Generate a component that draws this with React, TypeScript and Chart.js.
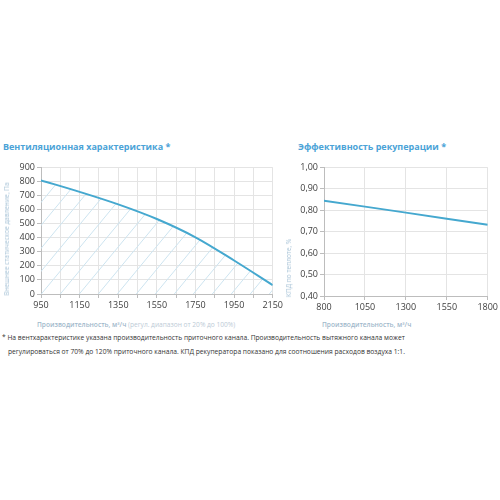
import React, { useEffect, useRef } from "react";
import { Chart, registerables } from "chart.js";
Chart.register(...registerables);

// Left chart: fan characteristic
const flowSupply = [950, 1150, 1350, 1550, 1750, 1950, 2150];
const pressurePa = [808, 726, 637, 533, 403, 238, 63];
// Right chart: recuperation efficiency
const flowRecup = [800, 1050, 1300, 1550, 1800];
const efficiency = [0.845, 0.817, 0.789, 0.76, 0.732];

const titleLeft = "Вентиляционная характеристика *";
const titleRight = "Эффективность рекуперации *";
const yTitleLeft = "Внешнее статическое давление, Па";
const yTitleRight = "КПД по теплоте, %";
const xTitleMain = "Производительность, м³/ч";
const xTitleNote = "(регул. диапазон от 20% до 100%)";
const footLine1 =
  "* На вентхарактеристике указана производительность приточного канала. Производительность вытяжного канала может";
const footLine2 =
  "регулироваться от 70% до 120% приточного канала. КПД рекуператора показано для соотношения расходов воздуха 1:1.";

const FONT = "'Open Sans', sans-serif";
const LINE = "#45a8cf";
const GRID = "#e4e4e4";
const AXIS = "#bdbdbd";
const TICK = "#404040";
const YTITLE = "#a6c2d6";

function makeHatch(): CanvasPattern | string {
  const w = 19;
  const h = 23;
  const c = document.createElement("canvas");
  c.width = w;
  c.height = h;
  const ctx = c.getContext("2d");
  if (!ctx) return "rgba(0,0,0,0)";
  ctx.strokeStyle = "#cde4f0";
  ctx.lineWidth = 1;
  ctx.beginPath();
  ctx.moveTo(-w, 2 * h);
  ctx.lineTo(2 * w, -h);
  ctx.moveTo(-2 * w, 2 * h);
  ctx.lineTo(w, -h);
  ctx.moveTo(0, 2 * h);
  ctx.lineTo(3 * w, -h);
  ctx.stroke();
  return ctx.createPattern(c, "repeat") || "rgba(0,0,0,0)";
}

function LeftChart() {
  const ref = useRef<HTMLCanvasElement>(null);
  useEffect(() => {
    if (!ref.current) return;
    const chart = new Chart(ref.current, {
      type: "line",
      data: {
        datasets: [
          {
            data: flowSupply.map((x, i) => ({ x, y: pressurePa[i] })),
            borderColor: LINE,
            borderWidth: 2,
            pointRadius: 0,
            cubicInterpolationMode: "monotone",
            fill: "origin",
            backgroundColor: makeHatch() as any,
          },
        ],
      },
      options: {
        responsive: false,
        animation: false,
        devicePixelRatio: 1,
        layout: { padding: { top: 6, right: 12, left: 0, bottom: 0 } },
        plugins: { legend: { display: false }, tooltip: { enabled: false } },
        scales: {
          x: {
            type: "linear",
            min: 950,
            max: 2150,
            afterFit: (s: any) => {
              s.height = 20;
            },
            ticks: {
              stepSize: 100,
              autoSkip: false,
              maxRotation: 0,
              padding: 2,
              color: TICK,
              font: { family: FONT, size: 9 },
              callback: (v: any) => ((Number(v) - 950) % 200 === 0 ? String(v) : ""),
            },
            grid: { color: GRID, tickColor: AXIS, tickLength: 4 },
            border: { color: AXIS },
          },
          y: {
            min: 0,
            max: 900,
            afterFit: (s: any) => {
              s.width = 41;
            },
            ticks: {
              stepSize: 100,
              padding: 2,
              color: TICK,
              font: { family: FONT, size: 9 },
              callback: (v: any) => String(v),
            },
            grid: { color: GRID, tickColor: AXIS, tickLength: 4 },
            border: { color: AXIS },
          },
        },
      },
    });
    return () => chart.destroy();
  }, []);
  return (
    <canvas
      ref={ref}
      width={285}
      height={154}
      style={{ position: "absolute", left: 0, top: 160, width: 285, height: 154 }}
    />
  );
}

function RightChart() {
  const ref = useRef<HTMLCanvasElement>(null);
  useEffect(() => {
    if (!ref.current) return;
    const chart = new Chart(ref.current, {
      type: "line",
      data: {
        datasets: [
          {
            data: flowRecup.map((x, i) => ({ x, y: efficiency[i] })),
            borderColor: LINE,
            borderWidth: 2,
            pointRadius: 0,
            fill: false,
          },
        ],
      },
      options: {
        responsive: false,
        animation: false,
        devicePixelRatio: 1,
        layout: { padding: { top: 6, right: 12, left: 0, bottom: 0 } },
        plugins: { legend: { display: false }, tooltip: { enabled: false } },
        scales: {
          x: {
            type: "linear",
            min: 800,
            max: 1800,
            afterFit: (s: any) => {
              s.height = 20;
            },
            ticks: {
              stepSize: 250,
              autoSkip: false,
              maxRotation: 0,
              padding: 2,
              color: TICK,
              font: { family: FONT, size: 9 },
              callback: (v: any) => String(v),
            },
            grid: { color: GRID, tickColor: AXIS, tickLength: 4 },
            border: { color: AXIS },
          },
          y: {
            min: 0.4,
            max: 1.0,
            afterFit: (s: any) => {
              s.width = 44;
            },
            ticks: {
              stepSize: 0.1,
              padding: 2,
              color: TICK,
              font: { family: FONT, size: 9 },
              callback: (v: any) => Number(v).toFixed(2).replace(".", ","),
            },
            grid: { color: GRID, tickColor: AXIS, tickLength: 4 },
            border: { color: AXIS },
          },
        },
      },
    });
    return () => chart.destroy();
  }, []);
  return (
    <canvas
      ref={ref}
      width={220}
      height={156}
      style={{ position: "absolute", left: 280, top: 160, width: 220, height: 156 }}
    />
  );
}

function VTitle({ text, cx, cy }: { text: string; cx: number; cy: number }) {
  return (
    <div
      style={{
        position: "absolute",
        left: cx,
        top: cy,
        transform: "translate(-50%, -50%) rotate(-90deg)",
        fontFamily: FONT,
        fontSize: 6.5,
        lineHeight: "8px",
        color: YTITLE,
        whiteSpace: "nowrap",
      }}
    >
      {text}
    </div>
  );
}

export default function App() {
  const titleStyle: React.CSSProperties = {
    position: "absolute",
    top: 140,
    fontFamily: FONT,
    fontWeight: 700,
    fontSize: 9,
    color: "#4ba3d7",
    whiteSpace: "nowrap",
  };
  const xTitleStyle: React.CSSProperties = {
    position: "absolute",
    top: 320,
    fontFamily: FONT,
    fontSize: 6.6,
    whiteSpace: "nowrap",
  };
  const footStyle: React.CSSProperties = {
    position: "absolute",
    fontFamily: FONT,
    fontSize: 6.7,
    color: "#333",
    whiteSpace: "nowrap",
  };
  return (
    <div
      style={{
        position: "fixed",
        left: 0,
        top: 0,
        width: 500,
        height: 500,
        background: "#fff",
        overflow: "hidden",
      }}
    >
      <div style={{ ...titleStyle, left: 3 }}>{titleLeft}</div>
      <div style={{ ...titleStyle, left: 298 }}>{titleRight}</div>
      <LeftChart />
      <RightChart />
      <VTitle text={yTitleLeft} cx={7} cy={239} />
      <VTitle text={yTitleRight} cx={289} cy={268} />
      <div style={{ ...xTitleStyle, left: 37 }}>
        <span style={{ color: "#9fb8cb", fontWeight: 600 }}>{xTitleMain}</span>{" "}
        <span style={{ color: "#bccbd6" }}>{xTitleNote}</span>
      </div>
      <div style={{ ...xTitleStyle, left: 322 }}>
        <span style={{ color: "#9fb8cb", fontWeight: 600 }}>{xTitleMain}</span>
      </div>
      <div style={{ ...footStyle, left: 2, top: 333 }}>{footLine1}</div>
      <div style={{ ...footStyle, left: 8, top: 347 }}>{footLine2}</div>
    </div>
  );
}
